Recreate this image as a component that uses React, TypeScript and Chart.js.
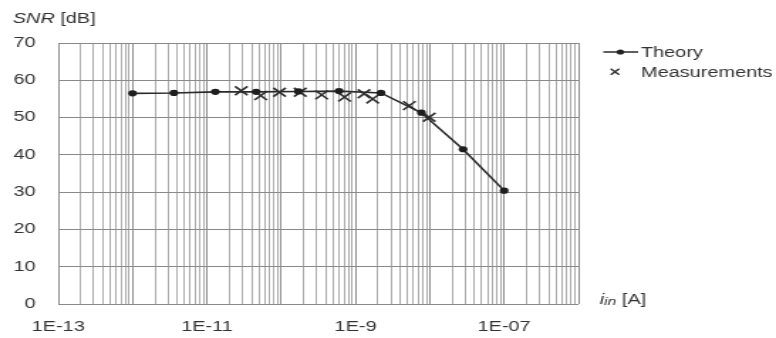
import React, { useEffect, useRef } from 'react';
import { Chart, registerables } from 'chart.js';

Chart.register(...registerables);

// ---- data ----
const theoryCurrent = [1e-12, 3.6e-12, 1.3e-11, 4.6e-11, 1.7e-10, 6e-10, 2.2e-9, 7.7e-9, 2.8e-8, 1e-7];
const theorySNR = [56.5, 56.6, 56.9, 56.9, 57.0, 57.1, 56.6, 51.3, 41.5, 30.4];
const measuredCurrent = [2.9e-11, 5.3e-11, 9.5e-11, 1.8e-10, 3.5e-10, 7.1e-10, 1.3e-9, 1.7e-9, 5.3e-9, 9.8e-9];
const measuredSNR = [57.2, 55.9, 56.8, 56.8, 56.1, 55.5, 56.4, 55.0, 53.2, 50.1];
const seriesNames = ['Theory', 'Measurements'];

const xDecadeExponents = [-13, -12, -11, -10, -9, -8, -7];
const xMinorMultipliers = [1, 2, 3, 4, 5, 6, 7, 8, 9];
const xMin = 1e-13;
const xMax = 1e-6;
const xTickLabelValues = [1e-13, 1e-11, 1e-9, 1e-7];
const xTickLabels = ['1E-13', '1E-11', '1E-9', '1E-07'];
const yMin = 0;
const yMax = 70;
const yStep = 10;
const yTitleItalic = 'SNR';
const yTitleRest = ' [dB]';
const xTitleMain = 'i';
const xTitleSub = 'in';
const xTitleRest = ' [A]';

// ---- layout ----
const FAMILY = "'Liberation Sans', Arial, Helvetica, sans-serif";
const INNER_W = 546;
const H = 338;
const DISPLAY_W = 776;
const TEXT = '#333333';

const xGridValues: number[] = [];
const xGridIsDecade: boolean[] = [];
xDecadeExponents.forEach((e) =>
  xMinorMultipliers.forEach((m) => {
    xGridValues.push(Number(`${m}e${e}`));
    xGridIsDecade.push(m === 1);
  })
);
xGridValues.push(xMax);
xGridIsDecade.push(true);

function xLabelFor(value: number): string {
  for (let i = 0; i < xTickLabelValues.length; i++) {
    if (Math.abs(value / xTickLabelValues[i] - 1) < 1e-6) return xTickLabels[i];
  }
  return '';
}

const textPlugin = {
  id: 'textOverlay',
  afterDraw(chart: any) {
    const ctx = chart.ctx as CanvasRenderingContext2D;
    ctx.save();
    ctx.fillStyle = TEXT;
    ctx.textAlign = 'left';
    ctx.textBaseline = 'alphabetic';

    // y-axis title
    let x = 9;
    ctx.font = `italic 14px ${FAMILY}`;
    ctx.fillText(yTitleItalic, x, 22.5);
    x += ctx.measureText(yTitleItalic).width;
    ctx.font = `14px ${FAMILY}`;
    ctx.fillText(yTitleRest, x, 22.5);

    // x-axis title
    x = 422;
    ctx.font = `italic 14px ${FAMILY}`;
    ctx.fillText(xTitleMain, x, 303.5);
    x += ctx.measureText(xTitleMain).width;
    ctx.font = `italic 11px ${FAMILY}`;
    ctx.fillText(xTitleSub, x, 304.5);
    x += ctx.measureText(xTitleSub).width;
    ctx.font = `14px ${FAMILY}`;
    ctx.fillText(xTitleRest, x, 303.5);

    // legend
    const textX = 451;
    ctx.strokeStyle = '#2a2a2a';
    ctx.lineWidth = 1.5;
    ctx.beginPath();
    ctx.moveTo(424.5, 52);
    ctx.lineTo(449, 52);
    ctx.stroke();
    ctx.fillStyle = '#222';
    ctx.beginPath();
    ctx.arc(436.5, 52, 2.6, 0, Math.PI * 2);
    ctx.fill();
    const cx = 432.7, cy = 71.8, r = 3.0;
    ctx.lineWidth = 1.3;
    ctx.beginPath();
    ctx.moveTo(cx - r, cy - r);
    ctx.lineTo(cx + r, cy + r);
    ctx.moveTo(cx + r, cy - r);
    ctx.lineTo(cx - r, cy + r);
    ctx.stroke();

    ctx.fillStyle = TEXT;
    ctx.font = `14px ${FAMILY}`;
    ctx.fillText(seriesNames[0], textX, 57);
    ctx.fillText(seriesNames[1], textX, 77);
    ctx.restore();
  },
};

export default function App() {
  const canvasRef = useRef<HTMLCanvasElement | null>(null);

  useEffect(() => {
    const canvas = canvasRef.current;
    if (!canvas) return;
    const chart = new Chart(canvas, {
      type: 'scatter',
      data: {
        datasets: [
          {
            label: seriesNames[0],
            data: theoryCurrent.map((c, i) => ({ x: c, y: theorySNR[i] })),
            showLine: true,
            borderColor: '#2a2a2a',
            borderWidth: 1.6,
            backgroundColor: '#222',
            pointStyle: 'circle',
            pointRadius: 3.1,
            pointBorderWidth: 0,
            pointBackgroundColor: '#1e1e1e',
            tension: 0,
          },
          {
            label: seriesNames[1],
            data: measuredCurrent.map((c, i) => ({ x: c, y: measuredSNR[i] })),
            showLine: false,
            pointStyle: 'crossRot',
            pointRadius: 6.2,
            pointBorderColor: '#2e2e2e',
            pointBorderWidth: 1.6,
            borderColor: '#2e2e2e',
            backgroundColor: '#2e2e2e',
          },
        ],
      },
      options: {
        responsive: false,
        maintainAspectRatio: false,
        animation: false,
        devicePixelRatio: 1,
        layout: { padding: { top: 43, right: 139, bottom: 0, left: 0 } },
        plugins: {
          legend: { display: false },
          tooltip: { enabled: false },
          title: { display: false },
        },
        scales: {
          x: {
            type: 'logarithmic',
            min: xMin,
            max: xMax,
            afterBuildTicks: (scale: any) => {
              scale.ticks = xGridValues.map((v) => ({ value: v }));
            },
            afterFit: (scale: any) => {
              scale.height = H - 304;
            },
            border: { display: false },
            grid: {
              color: (c: any) => (xGridIsDecade[c.index] ? '#8f8f8f' : '#ababab'),
              lineWidth: 1,
              drawTicks: false,
            },
            ticks: {
              autoSkip: false,
              maxRotation: 0,
              minRotation: 0,
              padding: 15,
              color: TEXT,
              font: { family: FAMILY, size: 14 },
              callback: (value: any) => xLabelFor(Number(value)),
            },
          },
          y: {
            min: yMin,
            max: yMax,
            afterFit: (scale: any) => {
              scale.width = 41;
            },
            border: { display: false },
            grid: { color: '#8a8a8a', lineWidth: 1, drawTicks: false },
            ticks: {
              stepSize: yStep,
              padding: 16,
              color: TEXT,
              font: { family: FAMILY, size: 14 },
            },
          },
        },
      },
      plugins: [textPlugin],
    } as any);
    return () => chart.destroy();
  }, []);

  return (
    <div style={{ position: 'fixed', left: 0, top: 0, width: DISPLAY_W, height: H, background: '#fff' }}>
      <canvas
        ref={canvasRef}
        width={INNER_W}
        height={H}
        style={{ width: `${DISPLAY_W}px`, height: `${H}px`, display: 'block' }}
      />
    </div>
  );
}
